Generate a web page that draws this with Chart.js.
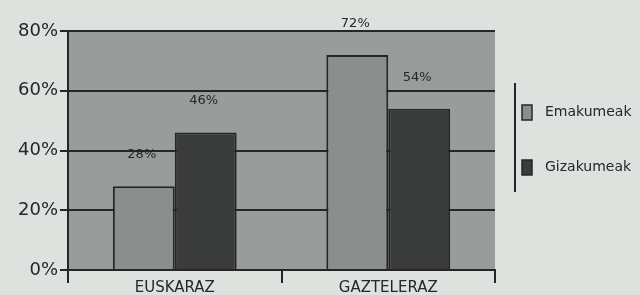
<!DOCTYPE html>
<html lang="eu">
<head>
    <meta charset="UTF-8">
    <title>Euskaraz / Gazteleraz</title>
    <style>
        body {
            margin: 0;
            background: #dde2df;
        }
        .chart-box {
            width: 640px;
            height: 295px;
        }
    </style>
</head>
<body>
    <div class="chart-box">
        <canvas id="chart" width="640" height="295"></canvas>
    </div>

    <script src="https://cdn.jsdelivr.net/npm/chart.js"></script>
    <script>
        const categories = ['EUSKARAZ', 'GAZTELERAZ'];
        const emakumeak = [28, 72];
        const gizakumeak = [46, 54];
        const seriesNames = ['Emakumeak', 'Gizakumeak'];
        const yTicks = [0, 20, 40, 60, 80];

        const ink = '#262626';

        // grey fill behind the plot area
        const plotBackground = {
            id: 'plotBackground',
            beforeDraw(chart) {
                const { ctx, chartArea } = chart;
                ctx.save();
                ctx.fillStyle = '#989d9b';
                ctx.fillRect(chartArea.left, chartArea.top, chartArea.right - chartArea.left, chartArea.bottom - chartArea.top);
                ctx.restore();
            }
        };

        // percentage labels above each bar
        const valueLabels = {
            id: 'valueLabels',
            afterDatasetsDraw(chart) {
                const { ctx } = chart;
                ctx.save();
                ctx.font = '13px "DejaVu Sans"';
                ctx.fillStyle = ink;
                ctx.textAlign = 'center';
                ctx.textBaseline = 'bottom';
                chart.data.datasets.forEach((ds, i) => {
                    chart.getDatasetMeta(i).data.forEach((bar, j) => {
                        ctx.fillText(ds.data[j] + '%', bar.x - 2, bar.y - 25);
                    });
                });
                ctx.restore();
            }
        };

        // legend at the right with a vertical rule
        const sideLegend = {
            id: 'sideLegend',
            afterDraw(chart) {
                const { ctx } = chart;
                ctx.save();
                ctx.strokeStyle = ink;
                ctx.lineWidth = 2;
                ctx.beginPath();
                ctx.moveTo(515, 83);
                ctx.lineTo(515, 192);
                ctx.stroke();
                ctx.font = '14px "DejaVu Sans"';
                ctx.textBaseline = 'middle';
                const rows = [112, 167];
                chart.data.datasets.forEach((ds, i) => {
                    const y = rows[i];
                    ctx.fillStyle = ds.backgroundColor;
                    ctx.fillRect(522, y - 7, 10, 15);
                    ctx.lineWidth = 1.5;
                    ctx.strokeRect(522, y - 7, 10, 15);
                    ctx.fillStyle = ink;
                    ctx.fillText(ds.label, 545, y);
                });
                ctx.restore();
            }
        };

        const ctx = document.getElementById('chart').getContext('2d');
        new Chart(ctx, {
            type: 'bar',
            data: {
                labels: categories,
                datasets: [{
                    label: seriesNames[0],
                    data: emakumeak,
                    backgroundColor: '#8a8f8d',
                    borderColor: ink,
                    borderWidth: 2,
                    borderSkipped: 'bottom'
                }, {
                    label: seriesNames[1],
                    data: gizakumeak,
                    backgroundColor: '#3a3b3b',
                    borderColor: ink,
                    borderWidth: 2,
                    borderSkipped: 'bottom'
                }]
            },
            options: {
                responsive: false,
                animation: false,
                layout: {
                    padding: { left: 16, right: 145, top: 31, bottom: 1 }
                },
                datasets: {
                    bar: { categoryPercentage: 0.58, barPercentage: 1 }
                },
                plugins: {
                    legend: { display: false },
                    tooltip: { enabled: false }
                },
                scales: {
                    x: {
                        offset: true,
                        grid: {
                            display: true,
                            offset: true,
                            drawOnChartArea: false,
                            color: ink,
                            lineWidth: 2,
                            tickLength: 13
                        },
                        border: { color: ink, width: 2 },
                        ticks: {
                            color: ink,
                            font: { family: 'DejaVu Sans', size: 15, lineHeight: 1 },
                            padding: -2
                        }
                    },
                    y: {
                        min: 0,
                        max: 80,
                        afterBuildTicks(axis) {
                            axis.ticks = yTicks.map(v => ({ value: v }));
                        },
                        grid: {
                            color: ink,
                            lineWidth: 2,
                            tickLength: 8
                        },
                        border: { color: ink, width: 2 },
                        ticks: {
                            color: ink,
                            font: { family: 'DejaVu Sans', size: 18 },
                            padding: 2,
                            callback: v => v + '%'
                        }
                    }
                }
            },
            plugins: [plotBackground, valueLabels, sideLegend]
        });
    </script>
</body>
</html>
